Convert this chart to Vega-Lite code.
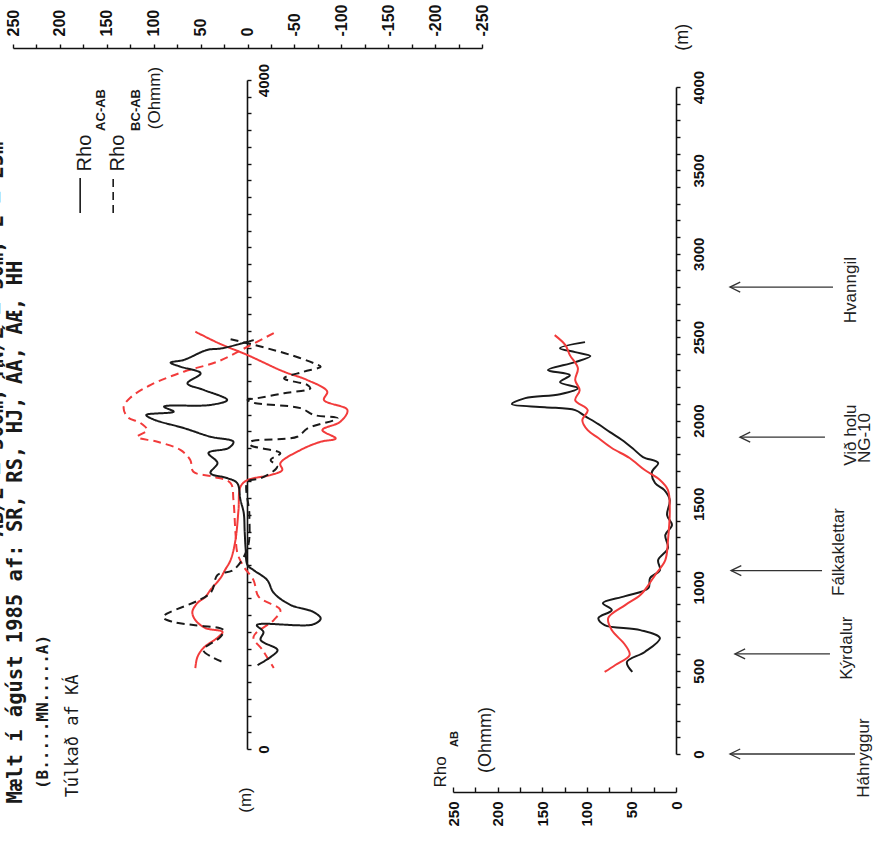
{
  "$schema": "https://vega.github.io/schema/vega-lite/v6.json",
  "width": 880,
  "height": 847,
  "autosize": "none",
  "padding": 0,
  "background": "white",
  "config": {
    "view": {"stroke": null},
    "axis": {"grid": false, "domainColor": "#111", "tickColor": "#111", "labelColor": "#111", "domainWidth": 1.6, "tickWidth": 1.4, "labelFont": "Liberation Sans", "labelFontWeight": "bold", "title": null}
  },
  "layer": [
    {
      "encoding": {
        "x": {"field": "v", "type": "quantitative",
          "scale": {"domain": [-250, 250], "range": [482, 13], "nice": false, "zero": false},
          "axis": {"orient": "top", "offset": -48, "title": null,
            "values": [-250,-225,-200,-175,-150,-125,-100,-75,-50,-25,0,25,50,75,100,125,150,175,200,225,250],
            "labelExpr": "datum.value % 50 == 0 ? '' + datum.value : ''",
            "labelAngle": 270, "labelAlign": "left", "labelBaseline": "middle",
            "tickSize": 4, "labelPadding": 8, "labelFontSize": 16}},
        "y": {"field": "d", "type": "quantitative",
          "scale": {"domain": [0, 4000], "range": [749, 80], "nice": false, "zero": false},
          "axis": {"orient": "right", "offset": -633, "title": null,
            "values": [0,100,200,300,400,500,600,700,800,900,1000,1100,1200,1300,1400,1500,1600,1700,1800,1900,2000,2100,2200,2300,2400,2500,2600,2700,2800,2900,3000,3100,3200,3300,3400,3500,3600,3700,3800,3900,4000],
            "labelExpr": "datum.value == 0 || datum.value == 4000 ? '' + datum.value : ''",
            "labelAngle": 270, "labelAlign": "center", "labelBaseline": "top",
            "tickSize": 4, "labelPadding": 5, "labelFontSize": 15}}
      },
      "layer": [
        {
          "data": {"values": [
            {"ferill":"AC-AB rautt","i":1,"d":2495,"v":55.6},{"ferill":"AC-AB rautt","i":2,"d":2426,"v":30.6},{"ferill":"AC-AB rautt","i":3,"d":2356,"v":0.3},{"ferill":"AC-AB rautt","i":4,"d":2256,"v":-38.8},{"ferill":"AC-AB rautt","i":5,"d":2206,"v":-63.8},{"ferill":"AC-AB rautt","i":6,"d":2137,"v":-85},{"ferill":"AC-AB rautt","i":7,"d":2087,"v":-81.5},{"ferill":"AC-AB rautt","i":8,"d":2027,"v":-106.5},{"ferill":"AC-AB rautt","i":9,"d":1957,"v":-99},{"ferill":"AC-AB rautt","i":10,"d":1907,"v":-79.8},{"ferill":"AC-AB rautt","i":11,"d":1857,"v":-94},{"ferill":"AC-AB rautt","i":12,"d":1837,"v":-78},{"ferill":"AC-AB rautt","i":13,"d":1788,"v":-56.6},{"ferill":"AC-AB rautt","i":14,"d":1708,"v":-35},{"ferill":"AC-AB rautt","i":15,"d":1668,"v":-37},{"ferill":"AC-AB rautt","i":16,"d":1638,"v":-24.6},{"ferill":"AC-AB rautt","i":17,"d":1608,"v":0},{"ferill":"AC-AB rautt","i":18,"d":1568,"v":7.5},{"ferill":"AC-AB rautt","i":19,"d":1429,"v":9.6},{"ferill":"AC-AB rautt","i":20,"d":1250,"v":12.8},{"ferill":"AC-AB rautt","i":21,"d":1130,"v":18},{"ferill":"AC-AB rautt","i":22,"d":1070,"v":24},{"ferill":"AC-AB rautt","i":23,"d":1022,"v":28.8},{"ferill":"AC-AB rautt","i":24,"d":951,"v":39.5},{"ferill":"AC-AB rautt","i":25,"d":909,"v":44.9},{"ferill":"AC-AB rautt","i":26,"d":873,"v":53.4},{"ferill":"AC-AB rautt","i":27,"d":819,"v":58.8},{"ferill":"AC-AB rautt","i":28,"d":771,"v":55.6},{"ferill":"AC-AB rautt","i":29,"d":723,"v":44.9},{"ferill":"AC-AB rautt","i":30,"d":700,"v":26.7},{"ferill":"AC-AB rautt","i":31,"d":670,"v":31},{"ferill":"AC-AB rautt","i":32,"d":604,"v":47},{"ferill":"AC-AB rautt","i":33,"d":550,"v":53.4},{"ferill":"AC-AB rautt","i":34,"d":484,"v":55.6},
            {"ferill":"BC-AB rautt","i":1,"d":2487,"v":-28},{"ferill":"BC-AB rautt","i":2,"d":2405,"v":0},{"ferill":"BC-AB rautt","i":3,"d":2316,"v":32},{"ferill":"BC-AB rautt","i":4,"d":2256,"v":68},{"ferill":"BC-AB rautt","i":5,"d":2176,"v":103.6},{"ferill":"BC-AB rautt","i":6,"d":2100,"v":125},{"ferill":"BC-AB rautt","i":7,"d":2045,"v":132},{"ferill":"BC-AB rautt","i":8,"d":1985,"v":128},{"ferill":"BC-AB rautt","i":9,"d":1949,"v":114},{"ferill":"BC-AB rautt","i":10,"d":1907,"v":107},{"ferill":"BC-AB rautt","i":11,"d":1866,"v":117.5},{"ferill":"BC-AB rautt","i":12,"d":1837,"v":96},{"ferill":"BC-AB rautt","i":13,"d":1788,"v":71.6},{"ferill":"BC-AB rautt","i":14,"d":1728,"v":61},{"ferill":"BC-AB rautt","i":15,"d":1658,"v":57.7},{"ferill":"BC-AB rautt","i":16,"d":1628,"v":36},{"ferill":"BC-AB rautt","i":17,"d":1590,"v":18},{"ferill":"BC-AB rautt","i":18,"d":1489,"v":15},{"ferill":"BC-AB rautt","i":19,"d":1290,"v":12.8},{"ferill":"BC-AB rautt","i":20,"d":1170,"v":10.7},{"ferill":"BC-AB rautt","i":21,"d":1090,"v":4},{"ferill":"BC-AB rautt","i":22,"d":1010,"v":-6.4},{"ferill":"BC-AB rautt","i":23,"d":910,"v":-12},{"ferill":"BC-AB rautt","i":24,"d":831,"v":-35},{"ferill":"BC-AB rautt","i":25,"d":771,"v":-28},{"ferill":"BC-AB rautt","i":26,"d":670,"v":-6.4},{"ferill":"BC-AB rautt","i":27,"d":592,"v":-16},{"ferill":"BC-AB rautt","i":28,"d":484,"v":-28},
            {"ferill":"AC-AB svart","i":1,"d":2445,"v":-6.6},{"ferill":"AC-AB svart","i":2,"d":2396,"v":27},{"ferill":"AC-AB svart","i":3,"d":2386,"v":43},{"ferill":"AC-AB svart","i":4,"d":2326,"v":68},{"ferill":"AC-AB svart","i":5,"d":2310,"v":82},{"ferill":"AC-AB svart","i":6,"d":2286,"v":71.6},{"ferill":"AC-AB svart","i":7,"d":2246,"v":50},{"ferill":"AC-AB svart","i":8,"d":2186,"v":64},{"ferill":"AC-AB svart","i":9,"d":2147,"v":46.7},{"ferill":"AC-AB svart","i":10,"d":2087,"v":21.7},{"ferill":"AC-AB svart","i":11,"d":2057,"v":39.5},{"ferill":"AC-AB svart","i":12,"d":2047,"v":89},{"ferill":"AC-AB svart","i":13,"d":2017,"v":78.7},{"ferill":"AC-AB svart","i":14,"d":1997,"v":108},{"ferill":"AC-AB svart","i":15,"d":1970,"v":100},{"ferill":"AC-AB svart","i":16,"d":1919,"v":68},{"ferill":"AC-AB svart","i":17,"d":1867,"v":39.5},{"ferill":"AC-AB svart","i":18,"d":1837,"v":15},{"ferill":"AC-AB svart","i":19,"d":1800,"v":20},{"ferill":"AC-AB svart","i":20,"d":1770,"v":41.6},{"ferill":"AC-AB svart","i":21,"d":1710,"v":32},{"ferill":"AC-AB svart","i":22,"d":1650,"v":39.5},{"ferill":"AC-AB svart","i":23,"d":1620,"v":21.7},{"ferill":"AC-AB svart","i":24,"d":1590,"v":11},{"ferill":"AC-AB svart","i":25,"d":1489,"v":7.5},{"ferill":"AC-AB svart","i":26,"d":1411,"v":4},{"ferill":"AC-AB svart","i":27,"d":1300,"v":3},{"ferill":"AC-AB svart","i":28,"d":1200,"v":2},{"ferill":"AC-AB svart","i":29,"d":1100,"v":0},{"ferill":"AC-AB svart","i":30,"d":1070,"v":-6.4},{"ferill":"AC-AB svart","i":31,"d":1010,"v":-21},{"ferill":"AC-AB svart","i":32,"d":933,"v":-28},{"ferill":"AC-AB svart","i":33,"d":861,"v":-46},{"ferill":"AC-AB svart","i":34,"d":820,"v":-70},{"ferill":"AC-AB svart","i":35,"d":780,"v":-78},{"ferill":"AC-AB svart","i":36,"d":745,"v":-70},{"ferill":"AC-AB svart","i":37,"d":741,"v":-10},{"ferill":"AC-AB svart","i":38,"d":700,"v":-17},{"ferill":"AC-AB svart","i":39,"d":652,"v":-14},{"ferill":"AC-AB svart","i":40,"d":592,"v":-32},{"ferill":"AC-AB svart","i":41,"d":550,"v":-24.6},{"ferill":"AC-AB svart","i":42,"d":502,"v":-10.7},
            {"ferill":"BC-AB svart","i":1,"d":2450,"v":18},{"ferill":"BC-AB svart","i":2,"d":2426,"v":0},{"ferill":"BC-AB svart","i":3,"d":2396,"v":-21},{"ferill":"BC-AB svart","i":4,"d":2356,"v":-46},{"ferill":"BC-AB svart","i":5,"d":2306,"v":-71},{"ferill":"BC-AB svart","i":6,"d":2286,"v":-78},{"ferill":"BC-AB svart","i":7,"d":2256,"v":-60},{"ferill":"BC-AB svart","i":8,"d":2216,"v":-39},{"ferill":"BC-AB svart","i":9,"d":2176,"v":-64},{"ferill":"BC-AB svart","i":10,"d":2156,"v":-67},{"ferill":"BC-AB svart","i":11,"d":2127,"v":-39},{"ferill":"BC-AB svart","i":12,"d":2097,"v":-10},{"ferill":"BC-AB svart","i":13,"d":2087,"v":0},{"ferill":"BC-AB svart","i":14,"d":2070,"v":-6.6},{"ferill":"BC-AB svart","i":15,"d":2038,"v":-56.6},{"ferill":"BC-AB svart","i":16,"d":1997,"v":-71},{"ferill":"BC-AB svart","i":17,"d":1977,"v":-96},{"ferill":"BC-AB svart","i":18,"d":1917,"v":-64},{"ferill":"BC-AB svart","i":19,"d":1867,"v":-53},{"ferill":"BC-AB svart","i":20,"d":1837,"v":-3.2},{"ferill":"BC-AB svart","i":21,"d":1818,"v":-3},{"ferill":"BC-AB svart","i":22,"d":1768,"v":-35},{"ferill":"BC-AB svart","i":23,"d":1728,"v":-24.6},{"ferill":"BC-AB svart","i":24,"d":1688,"v":-31.7},{"ferill":"BC-AB svart","i":25,"d":1618,"v":-14},{"ferill":"BC-AB svart","i":26,"d":1598,"v":0},{"ferill":"BC-AB svart","i":27,"d":1400,"v":-2},{"ferill":"BC-AB svart","i":28,"d":1200,"v":0},{"ferill":"BC-AB svart","i":29,"d":1070,"v":15},{"ferill":"BC-AB svart","i":30,"d":1040,"v":32},{"ferill":"BC-AB svart","i":31,"d":933,"v":39.5},{"ferill":"BC-AB svart","i":32,"d":789,"v":90},{"ferill":"BC-AB svart","i":33,"d":759,"v":79},{"ferill":"BC-AB svart","i":34,"d":741,"v":57.7},{"ferill":"BC-AB svart","i":35,"d":711,"v":25.6},{"ferill":"BC-AB svart","i":36,"d":670,"v":28.8},{"ferill":"BC-AB svart","i":37,"d":592,"v":47},{"ferill":"BC-AB svart","i":38,"d":544,"v":36},{"ferill":"BC-AB svart","i":39,"d":514,"v":23.5}
          ]},
          "mark": {"type": "line", "strokeWidth": 2, "interpolate": "catmull-rom"},
          "encoding": {
            "order": {"field": "i", "type": "quantitative"},
            "color": {"field": "ferill", "type": "nominal", "legend": null,
              "scale": {"domain": ["AC-AB svart", "BC-AB svart", "AC-AB rautt", "BC-AB rautt"], "range": ["#1a1a1a", "#1a1a1a", "#f23b3b", "#f23b3b"]}},
            "strokeDash": {"field": "ferill", "type": "nominal", "legend": null,
              "scale": {"domain": ["AC-AB svart", "BC-AB svart", "AC-AB rautt", "BC-AB rautt"], "range": [[1, 0], [8, 5], [1, 0], [8, 5]]}}
          }
        },
        {
          "data": {"values": [
            {"ferill": "AC-AB svart", "v": 178.4, "d": 3205, "d2": 3414},
            {"ferill": "BC-AB svart", "v": 143.2, "d": 3205, "d2": 3414}
          ]},
          "mark": {"type": "rule", "strokeWidth": 1.6, "color": "#1a1a1a"},
          "encoding": {
            "y2": {"field": "d2"},
            "strokeDash": {"field": "ferill", "type": "nominal", "legend": null}
          }
        },
        {
          "data": {"values": [
            {"v": 246.4, "d": 1297, "t": "Mælt í ágúst 1985 af: SR, RS, HJ, ÁÁ, ÁÆ, HH"},
            {"v": 267.5, "d": 2451, "t": "AB/2 = 500m, MN/2 = 50m, L = 25m"}
          ]},
          "mark": {"type": "text", "angle": 270, "font": "DejaVu Sans Mono", "fontSize": 20.5, "fontWeight": "bold", "align": "center", "baseline": "middle", "color": "#1a1a1a"},
          "encoding": {"text": {"field": "t"}}
        },
        {
          "data": {"values": [{"v": 218, "d": 221, "t": "(B.....MN.....A)"}]},
          "mark": {"type": "text", "angle": 270, "font": "DejaVu Sans Mono", "fontSize": 16, "fontWeight": "bold", "align": "center", "baseline": "middle", "color": "#1a1a1a"},
          "encoding": {"text": {"field": "t"}}
        },
        {
          "data": {"values": [{"v": 186, "d": 78, "t": "Túlkað af KÁ"}]},
          "mark": {"type": "text", "angle": 270, "font": "DejaVu Sans Mono", "fontSize": 17, "align": "center", "baseline": "middle", "color": "#1a1a1a"},
          "encoding": {"text": {"field": "t"}}
        },
        {
          "data": {"values": [{"v": 173.6, "d": 3563, "t": "Rho"}, {"v": 137.8, "d": 3563, "t": "Rho"}]},
          "mark": {"type": "text", "angle": 270, "font": "Liberation Sans", "fontSize": 20, "align": "center", "baseline": "middle", "color": "#1a1a1a"},
          "encoding": {"text": {"field": "t"}}
        },
        {
          "data": {"values": [{"v": 156, "d": 3821, "t": "AC-AB"}, {"v": 118.6, "d": 3821, "t": "BC-AB"}]},
          "mark": {"type": "text", "angle": 270, "font": "Liberation Sans", "fontSize": 13, "fontWeight": "bold", "align": "center", "baseline": "middle", "color": "#1a1a1a"},
          "encoding": {"text": {"field": "t"}}
        },
        {
          "data": {"values": [{"v": 98.3, "d": 3892, "t": "(Ohmm)"}, {"v": 2.1, "d": -305, "t": "(m)"}]},
          "mark": {"type": "text", "angle": 270, "font": "Liberation Sans", "fontSize": 17, "align": "center", "baseline": "middle", "color": "#1a1a1a"},
          "encoding": {"text": {"field": "t"}}
        }
      ]
    },
    {
      "encoding": {
        "x": {"field": "v", "type": "quantitative",
          "scale": {"domain": [0, 250], "range": [676, 453], "nice": false, "zero": false},
          "axis": {"orient": "bottom", "offset": -55, "title": null,
            "values": [0,25,50,75,100,125,150,175,200,225,250],
            "labelExpr": "datum.value % 50 == 0 ? '' + datum.value : ''",
            "labelAngle": 270, "labelAlign": "right", "labelBaseline": "middle",
            "tickSize": -5, "labelPadding": 14, "labelFontSize": 15}},
        "y": {"field": "d", "type": "quantitative",
          "scale": {"domain": [0, 4000], "range": [754, 87], "nice": false, "zero": false},
          "axis": {"orient": "right", "offset": -204, "title": null,
            "values": [0,100,200,300,400,500,600,700,800,900,1000,1100,1200,1300,1400,1500,1600,1700,1800,1900,2000,2100,2200,2300,2400,2500,2600,2700,2800,2900,3000,3100,3200,3300,3400,3500,3600,3700,3800,3900,4000],
            "labelExpr": "datum.value % 500 == 0 ? '' + datum.value : ''",
            "labelAngle": 270, "labelAlign": "center", "labelBaseline": "top",
            "tickSize": 4, "labelPadding": 11, "labelFontSize": 15}}
      },
      "layer": [
        {
          "data": {"values": [
            {"ferill":"Rho AB svart","i":1,"d":492,"v":49},{"ferill":"Rho AB svart","i":2,"d":552,"v":55},{"ferill":"Rho AB svart","i":3,"d":612,"v":35},{"ferill":"Rho AB svart","i":4,"d":695,"v":18},{"ferill":"Rho AB svart","i":5,"d":743,"v":40},{"ferill":"Rho AB svart","i":6,"d":773,"v":80},{"ferill":"Rho AB svart","i":7,"d":815,"v":87},{"ferill":"Rho AB svart","i":8,"d":863,"v":72},{"ferill":"Rho AB svart","i":9,"d":905,"v":82},{"ferill":"Rho AB svart","i":10,"d":947,"v":57},{"ferill":"Rho AB svart","i":11,"d":995,"v":31},{"ferill":"Rho AB svart","i":12,"d":1055,"v":29},{"ferill":"Rho AB svart","i":13,"d":1103,"v":18},{"ferill":"Rho AB svart","i":14,"d":1163,"v":20},{"ferill":"Rho AB svart","i":15,"d":1235,"v":9},{"ferill":"Rho AB svart","i":16,"d":1313,"v":12},{"ferill":"Rho AB svart","i":17,"d":1373,"v":4.5},{"ferill":"Rho AB svart","i":18,"d":1433,"v":10},{"ferill":"Rho AB svart","i":19,"d":1523,"v":7},{"ferill":"Rho AB svart","i":20,"d":1583,"v":13},{"ferill":"Rho AB svart","i":21,"d":1625,"v":23.5},{"ferill":"Rho AB svart","i":22,"d":1691,"v":27},{"ferill":"Rho AB svart","i":23,"d":1745,"v":20},{"ferill":"Rho AB svart","i":24,"d":1781,"v":37},{"ferill":"Rho AB svart","i":25,"d":1835,"v":49},{"ferill":"Rho AB svart","i":26,"d":1883,"v":60.5},{"ferill":"Rho AB svart","i":27,"d":1930,"v":74},{"ferill":"Rho AB svart","i":28,"d":1978,"v":87},{"ferill":"Rho AB svart","i":29,"d":2026,"v":102},{"ferill":"Rho AB svart","i":30,"d":2062,"v":113},{"ferill":"Rho AB svart","i":31,"d":2080,"v":147},{"ferill":"Rho AB svart","i":32,"d":2098,"v":184},{"ferill":"Rho AB svart","i":33,"d":2134,"v":169},{"ferill":"Rho AB svart","i":34,"d":2158,"v":130},{"ferill":"Rho AB svart","i":35,"d":2194,"v":110},{"ferill":"Rho AB svart","i":36,"d":2230,"v":130},{"ferill":"Rho AB svart","i":37,"d":2272,"v":119},{"ferill":"Rho AB svart","i":38,"d":2302,"v":143.5},{"ferill":"Rho AB svart","i":39,"d":2350,"v":113},{"ferill":"Rho AB svart","i":40,"d":2386,"v":96},{"ferill":"Rho AB svart","i":41,"d":2410,"v":113},{"ferill":"Rho AB svart","i":42,"d":2434,"v":130},{"ferill":"Rho AB svart","i":43,"d":2470,"v":102},
            {"ferill":"Rho AB rautt","i":1,"d":492,"v":80},{"ferill":"Rho AB rautt","i":2,"d":534,"v":68},{"ferill":"Rho AB rautt","i":3,"d":594,"v":52},{"ferill":"Rho AB rautt","i":4,"d":654,"v":57},{"ferill":"Rho AB rautt","i":5,"d":743,"v":72},{"ferill":"Rho AB rautt","i":6,"d":815,"v":76},{"ferill":"Rho AB rautt","i":7,"d":893,"v":57},{"ferill":"Rho AB rautt","i":8,"d":953,"v":40},{"ferill":"Rho AB rautt","i":9,"d":1013,"v":31},{"ferill":"Rho AB rautt","i":10,"d":1073,"v":23.5},{"ferill":"Rho AB rautt","i":11,"d":1163,"v":12},{"ferill":"Rho AB rautt","i":12,"d":1283,"v":9},{"ferill":"Rho AB rautt","i":13,"d":1463,"v":7},{"ferill":"Rho AB rautt","i":14,"d":1583,"v":9},{"ferill":"Rho AB rautt","i":15,"d":1643,"v":18},{"ferill":"Rho AB rautt","i":16,"d":1703,"v":35},{"ferill":"Rho AB rautt","i":17,"d":1775,"v":52},{"ferill":"Rho AB rautt","i":18,"d":1835,"v":72},{"ferill":"Rho AB rautt","i":19,"d":1895,"v":87},{"ferill":"Rho AB rautt","i":20,"d":1942,"v":99},{"ferill":"Rho AB rautt","i":21,"d":2002,"v":105},{"ferill":"Rho AB rautt","i":22,"d":2062,"v":99},{"ferill":"Rho AB rautt","i":23,"d":2122,"v":113},{"ferill":"Rho AB rautt","i":24,"d":2182,"v":108},{"ferill":"Rho AB rautt","i":25,"d":2242,"v":113},{"ferill":"Rho AB rautt","i":26,"d":2314,"v":110},{"ferill":"Rho AB rautt","i":27,"d":2392,"v":119},{"ferill":"Rho AB rautt","i":28,"d":2452,"v":124},{"ferill":"Rho AB rautt","i":29,"d":2512,"v":136}
          ]},
          "mark": {"type": "line", "strokeWidth": 2, "interpolate": "catmull-rom"},
          "encoding": {
            "order": {"field": "i", "type": "quantitative"},
            "color": {"field": "ferill", "type": "nominal", "legend": null,
              "scale": {"domain": ["Rho AB svart", "Rho AB rautt"], "range": ["#1a1a1a", "#f23b3b"]}}
          }
        },
        {
          "data": {"values": [
            {"stadur": "Háhryggur", "v": -200.7, "v2": -60.5, "d": 0},
            {"stadur": "Kýrdalur", "v": -172.6, "v2": -66, "d": 600},
            {"stadur": "Fálkaklettar", "v": -163.7, "v2": -61.7, "d": 1100},
            {"stadur": "Við holu NG-10", "v": -167, "v2": -71.7, "d": 1900},
            {"stadur": "Hvanngil", "v": -176, "v2": -60.5, "d": 2800}
          ]},
          "mark": {"type": "rule", "strokeWidth": 1.3, "color": "#333"},
          "encoding": {"x2": {"field": "v2"}}
        },
        {
          "data": {"values": [
            {"stadur": "Háhryggur", "i": 1, "v": -72, "d": 30}, {"stadur": "Háhryggur", "i": 2, "v": -60.5, "d": 0}, {"stadur": "Háhryggur", "i": 3, "v": -72, "d": -30},
            {"stadur": "Kýrdalur", "i": 1, "v": -77.5, "d": 630}, {"stadur": "Kýrdalur", "i": 2, "v": -66, "d": 600}, {"stadur": "Kýrdalur", "i": 3, "v": -77.5, "d": 570},
            {"stadur": "Fálkaklettar", "i": 1, "v": -73.2, "d": 1130}, {"stadur": "Fálkaklettar", "i": 2, "v": -61.7, "d": 1100}, {"stadur": "Fálkaklettar", "i": 3, "v": -73.2, "d": 1070},
            {"stadur": "Við holu NG-10", "i": 1, "v": -83.2, "d": 1930}, {"stadur": "Við holu NG-10", "i": 2, "v": -71.7, "d": 1900}, {"stadur": "Við holu NG-10", "i": 3, "v": -83.2, "d": 1870},
            {"stadur": "Hvanngil", "i": 1, "v": -72, "d": 2830}, {"stadur": "Hvanngil", "i": 2, "v": -60.5, "d": 2800}, {"stadur": "Hvanngil", "i": 3, "v": -72, "d": 2770}
          ]},
          "mark": {"type": "line", "strokeWidth": 1.3, "color": "#333"},
          "encoding": {"detail": {"field": "stadur"}, "order": {"field": "i", "type": "quantitative"}}
        },
        {
          "data": {"values": [
            {"v": -210.8, "d": -24, "t": "Háhryggur"},
            {"v": -191.7, "d": 635, "t": "Kýrdalur"},
            {"v": -182.7, "d": 1211, "t": "Fálkaklettar"},
            {"v": -196, "d": 1912, "t": "Við holu"},
            {"v": -212, "d": 1895, "t": "NG-10"},
            {"v": -196, "d": 2782, "t": "Hvanngil"}
          ]},
          "mark": {"type": "text", "angle": 270, "font": "Liberation Sans", "fontSize": 17, "align": "center", "baseline": "middle", "color": "#222"},
          "encoding": {"text": {"field": "t"}}
        },
        {
          "data": {"values": [{"v": 263.5, "d": -108, "t": "Rho"}]},
          "mark": {"type": "text", "angle": 270, "font": "Liberation Sans", "fontSize": 17, "align": "center", "baseline": "middle", "color": "#1a1a1a"},
          "encoding": {"text": {"field": "t"}}
        },
        {
          "data": {"values": [{"v": 247.8, "d": 90, "t": "AB"}]},
          "mark": {"type": "text", "angle": 270, "font": "Liberation Sans", "fontSize": 11, "fontWeight": "bold", "align": "center", "baseline": "middle", "color": "#1a1a1a"},
          "encoding": {"text": {"field": "t"}}
        },
        {
          "data": {"values": [{"v": 213, "d": 84, "t": "(Ohmm)"}, {"v": -7.8, "d": 4298, "t": "(m)"}]},
          "mark": {"type": "text", "angle": 270, "font": "Liberation Sans", "fontSize": 18, "align": "center", "baseline": "middle", "color": "#1a1a1a"},
          "encoding": {"text": {"field": "t"}}
        }
      ]
    }
  ],
  "resolve": {
    "scale": {"x": "independent", "y": "independent", "color": "independent", "strokeDash": "independent"},
    "axis": {"x": "independent", "y": "independent"}
  }
}
